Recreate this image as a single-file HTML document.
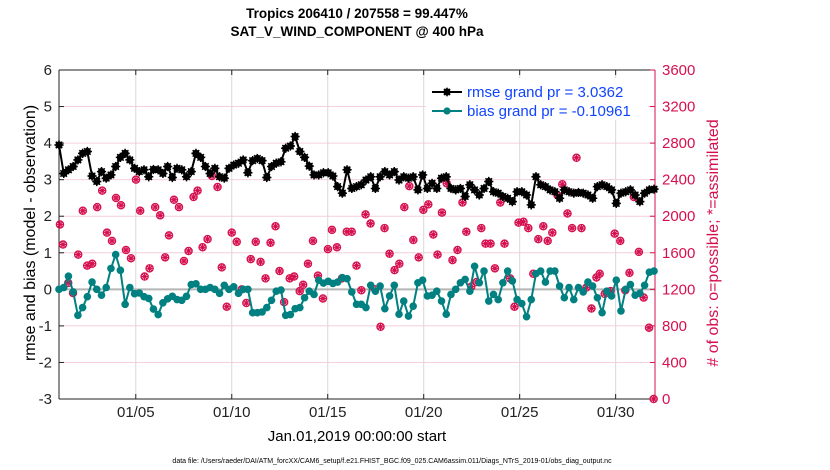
<!DOCTYPE html>
<html><head><meta charset="utf-8">
<style>
html,body{margin:0;padding:0;background:#fff;}
svg{display:block;font-family:"Liberation Sans",Arial,sans-serif;}
</style></head>
<body>
<svg id="chart" width="830" height="470" viewBox="0 0 830 470" xmlns="http://www.w3.org/2000/svg">
<text x="357" y="18" text-anchor="middle" font-size="13.5" font-weight="bold">Tropics 206410 / 207558 = 99.447%</text>
<text x="357" y="36" text-anchor="middle" font-size="13.5" font-weight="bold">SAT_V_WIND_COMPONENT @ 400 hPa</text>
<g id="grid"></g>
<g id="axes"></g>
<g id="obs"></g>
<g id="series"></g>
<text transform="translate(35,233) rotate(-90)" text-anchor="middle" font-size="16">rmse and bias (model - observation)</text>
<text transform="translate(718,243) rotate(-90)" text-anchor="middle" font-size="16" fill="#d6104f"># of obs: o=possible; *=assimilated</text>
<text x="357" y="441" text-anchor="middle" font-size="15">Jan.01,2019 00:00:00 start</text>
<text x="392" y="463" text-anchor="middle" font-size="7">data file: /Users/raeder/DAI/ATM_forcXX/CAM6_setup/f.e21.FHIST_BGC.f09_025.CAM6assim.011/Diags_NTrS_2019-01/obs_diag_output.nc</text>
<g id="legend"></g>
</svg>
<script>
const rmse = [3.95,3.17,3.27,3.36,3.54,3.72,3.77,3.10,2.95,3.22,3.04,3.13,3.36,3.61,3.72,3.54,3.31,3.22,3.27,3.08,3.28,3.27,3.17,3.36,3.06,3.31,3.27,3.08,3.22,3.72,3.61,3.36,3.17,3.31,
3.08,3.04,3.31,3.40,3.45,3.54,3.19,3.52,3.58,3.52,3.06,3.36,3.45,3.49,3.86,3.92,4.18,3.77,3.61,3.37,3.13,3.13,3.19,3.19,3.10,2.81,2.63,3.27,2.76,2.81,
2.86,2.99,3.08,2.76,3.08,3.22,3.13,3.22,2.99,3.08,3.04,3.08,2.72,3.13,2.76,2.90,2.76,3.04,3.08,2.76,2.72,2.76,2.54,2.86,2.72,2.58,2.76,2.95,2.67,2.63,
2.54,2.49,2.40,2.67,2.67,2.58,2.31,3.08,2.86,2.81,2.72,2.67,2.49,2.72,2.67,2.63,2.65,2.63,2.58,2.49,2.81,2.86,2.81,2.72,2.35,2.63,2.67,2.72,2.58,2.40,2.63,2.72,2.74];
const bias = [0,0.05,0.36,-0.07,-0.71,-0.50,-0.20,0.20,0,-0.16,0.05,0.57,0.95,0.52,-0.41,0.05,-0.12,-0.10,-0.20,-0.25,-0.54,-0.69,-0.37,-0.26,-0.19,-0.28,-0.30,-0.19,0.13,0.15,0,0,0.05,
0,-0.11,0.11,0,0.07,-0.11,0,0,-0.64,-0.64,-0.62,-0.50,-0.30,-0.05,-0.02,-0.71,-0.69,-0.53,-0.50,-0.23,-0.05,-0.14,0.25,0.17,0.22,0.16,0.20,0.32,0.29,-0.07,-0.41,
-0.41,-0.50,0.11,-0.05,0.09,-0.53,-0.18,0.11,-0.68,-0.32,-0.73,-0.46,0.18,0.25,-0.18,-0.16,-0.05,-0.32,-0.68,-0.14,0,0.18,0.27,-0.05,0.63,0.18,0.50,-0.32,-0.14,-0.28,
0.18,0.50,0.23,-0.28,-0.39,-0.75,-0.28,0.43,0.50,0.20,0.50,0.50,0.09,-0.23,0.05,-0.28,0.05,-0.07,0.20,0.09,-0.23,-0.64,-0.05,-0.18,0.25,-0.59,0,0.13,-0.16,-0.11,0.11,0.47,0.50];
const obsDays = [0.05,0.21,0.48,0.73,1.00,1.24,1.47,1.73,1.99,2.25,2.50,2.76,2.97,3.23,3.49,3.75,4.01,4.23,4.46,4.72,5.01,5.27,5.53,5.73,5.99,6.25,6.51,6.75,7.01,7.22,7.48,7.74,
7.97,8.26,8.48,8.74,9.00,9.26,9.52,9.76,9.99,10.25,10.50,10.76,11.02,11.28,11.49,11.73,12.02,12.25,12.54,12.72,12.97,13.23,13.49,13.75,14.01,14.22,14.48,14.74,14.99,15.25,15.50,
15.75,15.97,16.23,16.47,16.75,16.96,17.22,17.48,17.73,17.99,18.25,18.46,18.74,18.98,19.24,19.50,19.72,19.95,20.20,20.50,20.76,21.02,21.22,21.48,21.76,22.00,22.22,22.48,22.71,
22.99,23.21,23.50,23.73,23.94,24.20,24.45,24.71,24.97,25.23,25.46,25.70,25.97,26.22,26.49,26.73,26.96,27.22,27.48,27.74,28.00,28.17,28.43,28.74,28.95,29.24,29.50,29.72,29.95,30.21,30.46,30.74,30.98];
const obsCounts = [1910,1690,1270,1160,1580,2060,1460,1480,2100,2280,1820,1730,2200,2120,1630,1540,2400,2060,1340,1430,2100,2010,1550,1790,2180,2100,1510,1620,2210,2280,1660,1750,
2440,2320,1440,1010,1820,1720,1200,1050,1530,1720,1500,1320,1710,1890,1400,1060,1320,1340,1180,1250,1480,1730,1350,1100,1640,1850,1660,1320,1830,1830,1460,
1190,2020,1920,1200,790,1870,1590,1410,1480,2100,2330,1740,1550,2070,2130,1800,1580,2040,2360,1520,1630,2150,1830,1230,1280,1870,1700,1700,1430,
2150,1700,1320,1010,1930,1940,1870,1370,1750,1890,1730,1820,2230,2350,2030,1870,2640,1870,1220,990,1330,1370,1150,1180,1810,1730,1190,1380,2210,1610,1110,780,0];
const yTicksLeft = [-3,-2,-1,0,1,2,3,4,5,6];
const yTicksRight = [0,400,800,1200,1600,2000,2400,2800,3200,3600];
const xTickDays = [4,9,14,19,24,29];
const xTickLabels = ["01/05","01/10","01/15","01/20","01/25","01/30"];
const legendLabels = ["rmse grand pr = 3.0362","bias grand pr = -0.10961"];

const NS="http://www.w3.org/2000/svg";
const L=59,R=655,T=70,B=399;
const X0=0,X1=31.05;
const daySpan=31.0;
const xs=d=>L+(d-X0)/(X1-X0)*(R-L);
const yl=v=>B-(v+3)/9*(B-T);
const yr=v=>B-v/3600*(B-T);
const PINK="#d6104f";
function mk(tag,attrs,parent){const e=document.createElementNS(NS,tag);for(const k in attrs)e.setAttribute(k,attrs[k]);parent.appendChild(e);return e;}
const grid=document.getElementById('grid'),axes=document.getElementById('axes'),series=document.getElementById('series'),obs=document.getElementById('obs'),legend=document.getElementById('legend');
mk('rect',{x:L,y:T,width:R-L,height:B-T,fill:'#fff'},grid);
yTicksRight.forEach(v=>{const y=yr(v);if(v>0&&v<3600){const g=mk('line',{x1:L,x2:R,y1:y,y2:y,stroke:'#f4cfdc','stroke-width':1},grid);

}});
xTickDays.forEach(d=>{const x=xs(d);const g=mk('line',{x1:x,x2:x,y1:T,y2:B,stroke:'#d8d8d8','stroke-width':1},grid);

});
const z=mk('line',{x1:L,x2:R,y1:yl(0),y2:yl(0),stroke:'#b5b5b5','stroke-width':2},grid);


mk('line',{x1:L,x2:R,y1:T,y2:T,stroke:'#222'},axes);
mk('line',{x1:L,x2:R,y1:B,y2:B,stroke:'#222'},axes);
mk('line',{x1:L,x2:L,y1:T,y2:B,stroke:'#222'},axes);
mk('line',{x1:R,x2:R,y1:T,y2:B,stroke:PINK},axes);
yTicksLeft.forEach(v=>{const y=yl(v);mk('line',{x1:L,x2:L+5,y1:y,y2:y,stroke:'#222'},axes);
const t=mk('text',{x:L-7,y:y+5,'text-anchor':'end','font-size':15,fill:'#222'},axes);t.textContent=v;

});
yTicksRight.forEach(v=>{const y=yr(v);mk('line',{x1:R-5,x2:R,y1:y,y2:y,stroke:PINK},axes);
const t=mk('text',{x:R+7,y:y+5,'font-size':15,fill:PINK},axes);t.textContent=v;

});
xTickDays.forEach((d,i)=>{const x=xs(d);mk('line',{x1:x,x2:x,y1:B,y2:B-5,stroke:'#222'},axes);mk('line',{x1:x,x2:x,y1:T,y2:T+5,stroke:'#222'},axes);
const t=mk('text',{x:x,y:417,'text-anchor':'middle','font-size':15,fill:'#222'},axes);t.textContent=xTickLabels[i];

});
function star(cx,cy,r,col,w,parent){let d='';for(let k=0;k<4;k++){const a=k*Math.PI/4;d+=`M${cx-r*Math.cos(a)},${cy-r*Math.sin(a)}L${cx+r*Math.cos(a)},${cy+r*Math.sin(a)}`;}return mk('path',{d:d,stroke:col,'stroke-width':w,fill:'none'},parent);}
obsDays.forEach((d,i)=>{const x=xs(d),y=yr(obsCounts[i]);
const c=mk('circle',{cx:x,cy:y,r:3.6,fill:'none',stroke:PINK,'stroke-width':1.3},obs);


const s=star(x,y,3.4,PINK,1.2,obs);

});
const stepR=daySpan/(rmse.length-1);
const rp=rmse.map((v,i)=>[xs(i*stepR),yl(v)]);
const rl=mk('polyline',{points:rp.map(p=>p.join(',')).join(' '),fill:'none',stroke:'#000','stroke-width':2},series);


rp.forEach(p=>{const c=mk('circle',{cx:p[0],cy:p[1],r:3.6,fill:'#000'},series);


star(p[0],p[1],4.6,'#000',1.5,series);});
const stepB=daySpan/(bias.length-1);
const bp=bias.map((v,i)=>[xs(i*stepB),yl(v)]);
const bl=mk('polyline',{points:bp.map(p=>p.join(',')).join(' '),fill:'none',stroke:'#008080','stroke-width':2},series);


bp.forEach(p=>{const c=mk('circle',{cx:p[0],cy:p[1],r:3.8,fill:'#008080'},series);

});
mk('rect',{x:426,y:78,width:222,height:42,fill:'#fff'},legend);
const lcols=['#000','#008080'];
legendLabels.forEach((lab,i)=>{const y=92+i*19;
mk('line',{x1:432,x2:462,y1:y,y2:y,stroke:lcols[i],'stroke-width':2},legend);
mk('circle',{cx:447,cy:y,r:3.6,fill:lcols[i]},legend);
if(i===0)star(447,y,4.4,'#000',1.4,legend);
const t=mk('text',{x:467,y:y+5,'font-size':15,fill:'#1144ff'},legend);t.textContent=lab;

});
</script>
</body></html>
